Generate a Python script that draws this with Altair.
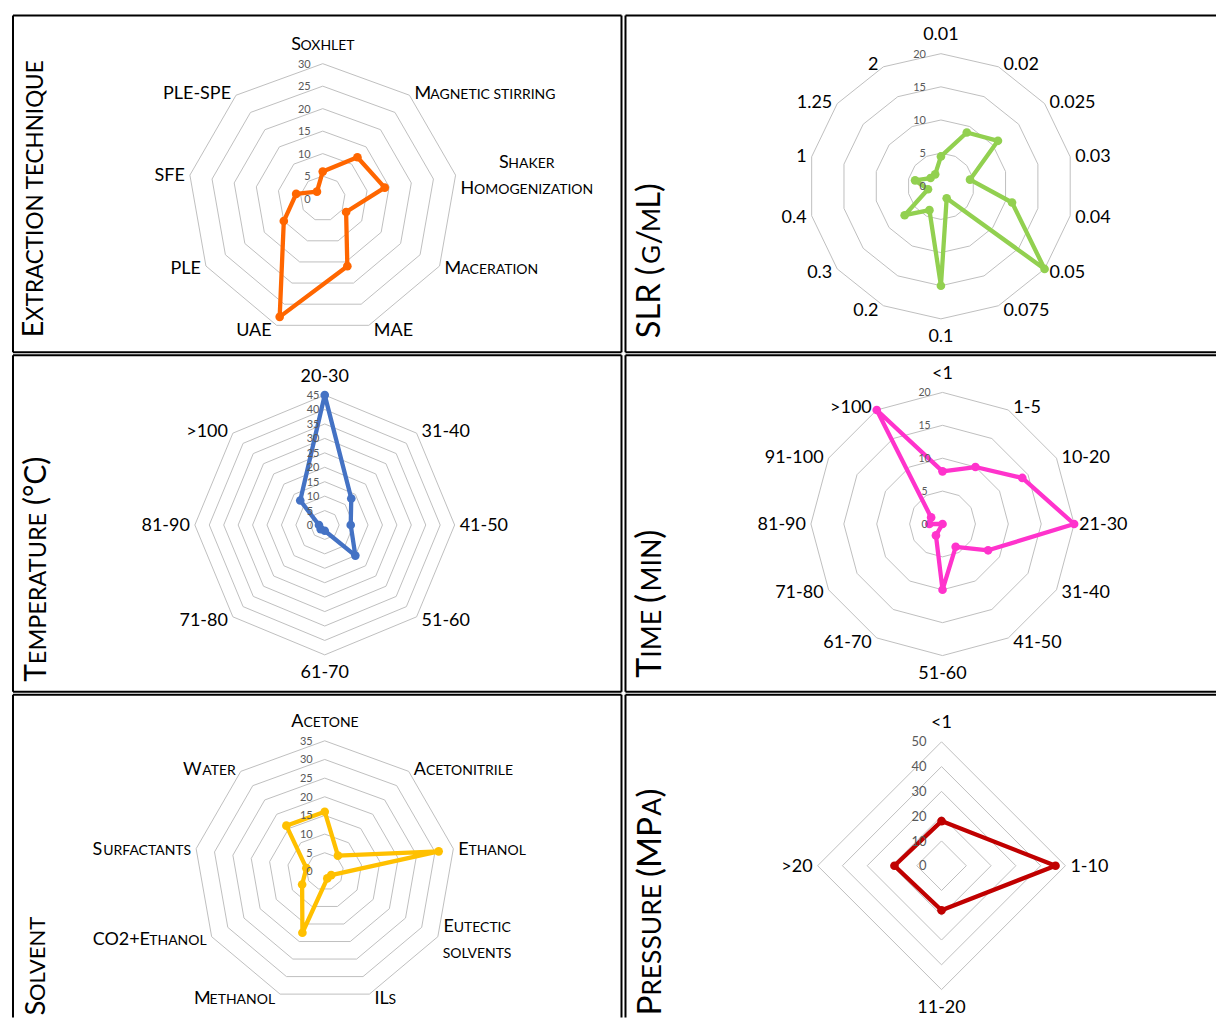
import math
import altair as alt
import pandas as pd

# ---------------- data ----------------
ext_cats = ["Soxhlet", "Magnetic stirring", "Shaker\nHomogenization", "Maceration",
            "MAE", "UAE", "PLE", "SFE", "PLE-SPE"]
ext_vals = [6, 12, 14, 6, 16, 28, 10, 6, 2]

slr_cats = ["0.01", "0.02", "0.025", "0.03", "0.04", "0.05", "0.075", "0.1",
            "0.2", "0.3", "0.4", "1", "1.25", "2"]
slr_vals = [4.5, 9, 11, 4.5, 11, 20, 2, 15, 4, 7, 2, 4, 2, 2]

temp_cats = ["20-30", "31-40", "41-50", "51-60", "61-70", "71-80", "81-90", ">100"]
temp_vals = [45, 13, 9, 15, 2, 2, 2, 12]

time_cats = ["<1", "1-5", "10-20", "21-30", "31-40", "41-50", "51-60", "61-70",
             "71-80", "81-90", "91-100", ">100"]
time_vals = [8, 10, 14, 20, 8, 4, 10, 2, 0, 2, 2, 20]

solv_cats = ["Acetone", "Acetonitrile", "Ethanol", "Eutectic\nsolvents", "ILs",
             "Methanol", "CO2+Ethanol", "Surfactants", "Water"]
solv_vals = [16, 5.5, 31, 2, 2, 17.5, 7, 5, 16]

pres_cats = ["<1", "1-10", "11-20", ">20"]
pres_vals = [18, 46, 18, 19]

titles = ["Extraction technique", "SLR (g/mL)", "Temperature (°C)",
          "Time (min)", "Solvent", "Pressure (MPa)"]

# ---------------- styling / layout ----------------
COLW = [609, 591]
ROWH = [337, 337, 323]
FONT = "Lato"
BIG, SMALL = 18, 14
GRID = "#bfbfbf"

WID = {"A": .68, "B": .65, "C": .67, "D": .75, "E": .56, "F": .54, "G": .73, "H": .75,
       "I": .29, "J": .40, "K": .67, "L": .50, "M": .88, "N": .75, "O": .79, "P": .58,
       "Q": .79, "R": .63, "S": .52, "T": .58, "U": .72, "V": .68, "W": 1.0, "X": .66,
       "Y": .62, "Z": .61, " ": .26, ".": .23, "-": .35, "+": .58, "(": .33, ")": .33,
       "/": .38, "°": .40, "<": .58, ">": .58}
for d in "0123456789":
    WID[d] = .58
LABEL_SCALE = 1.0
TITLE_SCALE = 1.02

panels = [
    dict(cats=ext_cats, vals=ext_vals, rmax=30, step=5, color="#FF6600",
         cx=310, cy=183.3, rad=135, rl_size=11, rl_gap=12, rl_align="right",
         tx=30, ty=322, tbig=28.5, tsmall=22.5, title=titles[0],
         edges="ltrb", col=0, row=0),
    dict(cats=slr_cats, vals=slr_vals, rmax=20, step=5, color="#92D050",
         cx=315.7, cy=171, rad=132.7, rl_size=11, rl_gap=15, rl_align="right",
         tx=35, ty=323, tbig=32.5, tsmall=26, title=titles[1],
         edges="ltb", col=1, row=0),
    dict(cats=temp_cats, vals=temp_vals, rmax=45, step=5, color="#4472C4",
         cx=312, cy=170, rad=130, rl_size=11, rl_gap=18, rl_align="left",
         tx=33, ty=327, tbig=30, tsmall=23.5, title=titles[2],
         edges="ltrb", col=0, row=1),
    dict(cats=time_cats, vals=time_vals, rmax=20, step=5, color="#FF33CC",
         cx=317.3, cy=169, rad=131.7, rl_size=10.5, rl_gap=18, rl_align="center",
         tx=36, ty=323, tbig=34, tsmall=27, title=titles[3],
         edges="ltb", col=1, row=1),
    dict(cats=solv_cats, vals=solv_vals, rmax=35, step=5, color="#FFC000",
         cx=312, cy=176.7, rad=130.7, rl_size=11, rl_gap=12, rl_align="right",
         tx=32, ty=321, tbig=27.5, tsmall=22, title=titles[4],
         edges="ltr", col=0, row=2),
    dict(cats=pres_cats, vals=pres_vals, rmax=50, step=10, color="#C00000",
         cx=316.3, cy=171, rad=124, rl_size=13, rl_gap=15, rl_align="right",
         tx=36, ty=321, tbig=33.5, tsmall=26.5, title=titles[5],
         edges="lt", col=1, row=2),
]


def est(s, size, scale=LABEL_SCALE):
    return sum(WID.get(c, 0.6) for c in s) * size * scale


def split_runs(s):
    runs = []
    for ch in s:
        big = not ch.islower()
        if ch == " " and runs:
            big = runs[-1][1]
        t = ch.upper()
        if runs and runs[-1][1] == big:
            runs[-1][0] += t
        else:
            runs.append([t, big])
    return runs


def place_line(rows, line, ax, base, align, big, small, color):
    runs = split_runs(line)
    sizes = [big if b else small for _, b in runs]
    widths = [est(t, sz) for (t, _), sz in zip(runs, sizes)]
    if len(runs) == 1:
        rows.append(dict(px=ax, py=base, text=runs[0][0], size=sizes[0],
                         align=align, color=color, angle=0))
        return
    if align == "right":
        pos = ax
        for (t, _), sz, w in reversed(list(zip(runs, sizes, widths))):
            rows.append(dict(px=pos, py=base, text=t, size=sz, align="right",
                             color=color, angle=0))
            pos -= w
    else:
        pos = ax if align == "left" else ax - sum(widths) / 2
        for (t, _), sz, w in zip(runs, sizes, widths):
            rows.append(dict(px=pos, py=base, text=t, size=sz, align="left",
                             color=color, angle=0))
            pos += w


def line_width(line):
    return sum(est(t, BIG if b else SMALL) for t, b in split_runs(line))


def build_panel(p):
    W, H = COLW[p["col"]], ROWH[p["row"]]
    n = len(p["cats"])
    cx, cy, rad, rmax = p["cx"], p["cy"], p["rad"], p["rmax"]
    k = rad / rmax
    thetas = [2 * math.pi * i / n for i in range(n)]

    # rings
    ring_rows = []
    lv = p["step"]
    while lv <= rmax + 1e-9:
        for i in range(n + 1):
            th = thetas[i % n]
            ring_rows.append(dict(x=lv * math.sin(th), y=lv * math.cos(th), ring=lv, idx=i))
        lv += p["step"]
    rings = pd.DataFrame(ring_rows)

    # series
    ser_rows = []
    for i in range(n + 1):
        th = thetas[i % n]
        v = p["vals"][i % n]
        ser_rows.append(dict(x=v * math.sin(th), y=v * math.cos(th), idx=i,
                             cat=p["cats"][i % n].replace("\n", " "), value=v))
    ser = pd.DataFrame(ser_rows)

    # texts (pixel layout converted to data units)
    rows = []
    for i, (cat, th) in enumerate(zip(p["cats"], thetas)):
        s, c = math.sin(th), math.cos(th)
        vx, vy = cx + rad * s, cy - rad * c
        if abs(s) < 0.05:
            align, ax = "center", vx
            cy_lab = vy - 20 if c > 0 else vy + 17
        elif s > 0:
            align, ax = "left", vx + 5
            cy_lab = vy - 4 * c
        else:
            align, ax = "right", vx - 5
            cy_lab = vy - 4 * c
        lines = cat.split("\n")
        nl = len(lines)
        bw = max(line_width(l) for l in lines)
        for j, l in enumerate(lines):
            lc = cy_lab + (j - (nl - 1) / 2) * 26
            base = lc + 0.36 * BIG
            if nl > 1:
                if align == "left":
                    place_line(rows, l, ax + bw / 2, base, "center", BIG, SMALL, "#000000")
                elif align == "right":
                    place_line(rows, l, ax - bw / 2, base, "center", BIG, SMALL, "#000000")
                else:
                    place_line(rows, l, ax, base, "center", BIG, SMALL, "#000000")
            else:
                place_line(rows, l, ax, base, align, BIG, SMALL, "#000000")

    # ring value labels
    lv = 0
    while lv <= rmax + 1e-9:
        py = cy - lv * k + 0.36 * p["rl_size"]
        rows.append(dict(px=cx - p["rl_gap"], py=py, text=str(int(lv)), size=p["rl_size"],
                         align=p["rl_align"], color="#595959", angle=0))
        lv += p["step"]

    # panel title (small caps, rotated)
    pos = p["ty"]
    for t, b in split_runs(p["title"]):
        sz = p["tbig"] if b else p["tsmall"]
        rows.append(dict(px=p["tx"], py=pos, text=t, size=sz, align="left",
                         color="#000000", angle=270))
        pos -= est(t, sz, TITLE_SCALE)

    txt = pd.DataFrame(rows)
    txt["x"] = (txt["px"] - cx) / k
    txt["y"] = (cy - txt["py"]) / k

    # panel frame edges (in the same data units)
    x0, x1 = -cx / k, (W - cx) / k
    y0, y1 = (cy - H) / k, cy / k
    edge_defs = {"l": (x0, y0, x0, y1), "t": (x0, y1, x1, y1),
                 "r": (x1, y0, x1, y1), "b": (x0, y0, x1, y0)}
    edges = pd.DataFrame([dict(zip(["x", "y", "x2", "y2"], edge_defs[e]))
                          for e in p["edges"]])

    xs = alt.Scale(domain=[x0, x1], nice=False, zero=False)
    ys = alt.Scale(domain=[y0, y1], nice=False, zero=False)
    X = alt.X("x:Q", scale=xs, axis=None)
    Y = alt.Y("y:Q", scale=ys, axis=None)

    frame = alt.Chart(edges).mark_rule(color="#000000", strokeWidth=2).encode(
        x=X, y=Y, x2="x2:Q", y2="y2:Q")
    ring_layer = alt.Chart(rings).mark_line(color=GRID, strokeWidth=1, clip=True).encode(
        x=X, y=Y, detail="ring:N", order="idx:Q")
    line_layer = alt.Chart(ser).mark_line(color=p["color"], strokeWidth=4.3,
                                          strokeJoin="round", clip=True).encode(
        x=X, y=Y, order="idx:Q")
    pt_layer = alt.Chart(ser[ser["idx"] < n]).mark_circle(
        color=p["color"], size=75, opacity=1, clip=True).encode(
        x=X, y=Y, tooltip=["cat:N", "value:Q"])
    layers = [ring_layer, line_layer, pt_layer]
    for a in ["left", "center", "right"]:
        layers.append(
            alt.Chart(txt).transform_filter(alt.datum.align == a).mark_text(
                align=a, baseline="alphabetic", font=FONT, clip=True).encode(
                x=X, y=Y, text="text:N",
                size=alt.Size("size:Q", scale=None),
                color=alt.Color("color:N", scale=None),
                angle=alt.Angle("angle:Q", scale=None)))
    layers.append(frame)
    return alt.layer(*layers).properties(width=W, height=H)


charts = [build_panel(p) for p in panels]
row1 = alt.hconcat(charts[0], charts[1], spacing=2)
row2 = alt.hconcat(charts[2], charts[3], spacing=2)
row3 = alt.hconcat(charts[4], charts[5], spacing=2)

chart = alt.vconcat(row1, row2, row3, spacing=1).properties(
    padding={"left": 4, "top": 6, "right": 0, "bottom": 0},
    background="white",
).configure_view(stroke="transparent", strokeWidth=0)

chart.save("out.html", embed_options={"renderer": "svg", "actions": False})
